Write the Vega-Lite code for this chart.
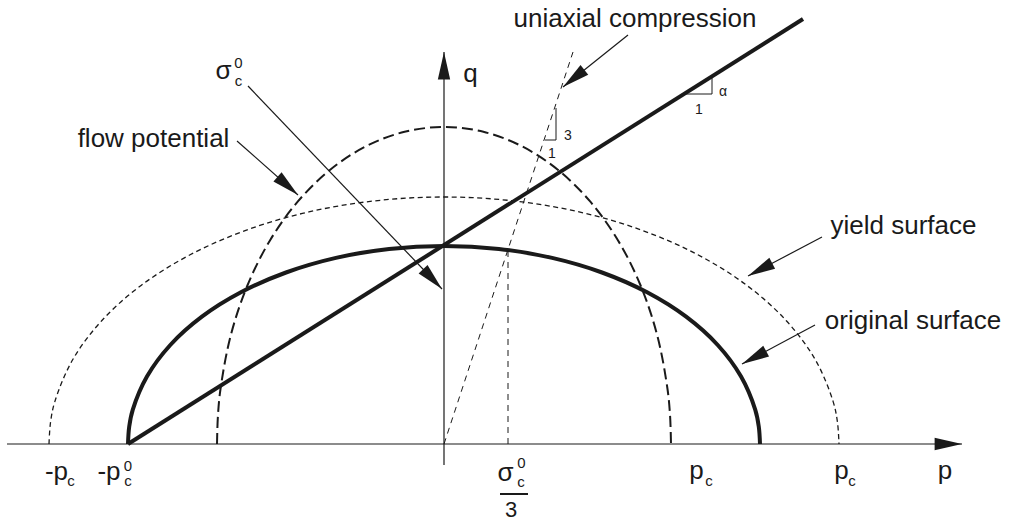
{
  "$schema": "https://vega.github.io/schema/vega-lite/v6.json",
  "width": 1012,
  "height": 528,
  "autosize": {"type": "fit", "contains": "padding"},
  "padding": 0,
  "background": "#ffffff",
  "view": {"stroke": null},
  "datasets": {
    "original": [
      {"p": -316, "q": 0}, {"p": -314.8, "q": 17.3}, {"p": -311.2, "q": 34.4}, {"p": -296.9, "q": 67.7},
      {"p": -273.7, "q": 99}, {"p": -242.1, "q": 127.3}, {"p": -203.1, "q": 151.7}, {"p": -158, "q": 171.5},
      {"p": -108.1, "q": 186.1}, {"p": -54.9, "q": 195}, {"p": 0, "q": 198}, {"p": 54.9, "q": 195},
      {"p": 108.1, "q": 186.1}, {"p": 158, "q": 171.5}, {"p": 203.1, "q": 151.7}, {"p": 242.1, "q": 127.3},
      {"p": 273.7, "q": 99}, {"p": 296.9, "q": 67.7}, {"p": 311.2, "q": 34.4}, {"p": 314.8, "q": 17.3},
      {"p": 316, "q": 0}
    ],
    "flow": [
      {"p": -227, "q": 0}, {"p": -226.1, "q": 27.6}, {"p": -223.5, "q": 55}, {"p": -213.3, "q": 108.4},
      {"p": -196.6, "q": 158.5}, {"p": -173.9, "q": 203.8}, {"p": -145.9, "q": 242.8}, {"p": -113.5, "q": 274.5},
      {"p": -77.6, "q": 297.9}, {"p": -39.4, "q": 312.2}, {"p": 0, "q": 317}, {"p": 39.4, "q": 312.2},
      {"p": 77.6, "q": 297.9}, {"p": 113.5, "q": 274.5}, {"p": 145.9, "q": 242.8}, {"p": 173.9, "q": 203.8},
      {"p": 196.6, "q": 158.5}, {"p": 213.3, "q": 108.4}, {"p": 223.5, "q": 55}, {"p": 226.1, "q": 27.6},
      {"p": 227, "q": 0}
    ],
    "yield": [
      {"p": -395, "q": 0}, {"p": -393.5, "q": 21.5}, {"p": -389, "q": 42.9}, {"p": -371.2, "q": 84.5},
      {"p": -342.1, "q": 123.5}, {"p": -302.6, "q": 158.8}, {"p": -253.9, "q": 189.2}, {"p": -197.5, "q": 213.9},
      {"p": -135.1, "q": 232.1}, {"p": -68.6, "q": 243.2}, {"p": 0, "q": 247}, {"p": 68.6, "q": 243.2},
      {"p": 135.1, "q": 232.1}, {"p": 197.5, "q": 213.9}, {"p": 253.9, "q": 189.2}, {"p": 302.6, "q": 158.8},
      {"p": 342.1, "q": 123.5}, {"p": 371.2, "q": 84.5}, {"p": 389, "q": 42.9}, {"p": 393.5, "q": 21.5},
      {"p": 395, "q": 0}
    ],
    "segs": [
      {"kind": "thick", "p": -316, "q": 0, "p2": 359, "q2": 425},
      {"kind": "dash", "p": 0, "q": 0, "p2": 129, "q2": 392},
      {"kind": "dash", "p": 64, "q": 0, "p2": 64, "q2": 193},
      {"kind": "thin", "p": 101, "q": 304, "p2": 112, "q2": 304},
      {"kind": "thin", "p": 112, "q": 304, "p2": 112, "q2": 336},
      {"kind": "thin", "p": 241, "q": 350, "p2": 268, "q2": 350},
      {"kind": "thin", "p": 268, "q": 350, "p2": 268, "q2": 367},
      {"kind": "bar", "p": 56, "q": -50, "p2": 84, "q2": -50}
    ],
    "arrows": [
      {"name": "p axis", "p": 518, "q": 0, "p2": -437, "q2": 0},
      {"name": "q axis", "p": 0, "q": 392, "p2": 0, "q2": -21},
      {"name": "uniaxial compression", "p": 119, "q": 357, "p2": 184, "q2": 409},
      {"name": "sigma", "p": -2, "q": 155, "p2": -196, "q2": 358},
      {"name": "flow potential", "p": -146, "q": 249, "p2": -207, "q2": 303},
      {"name": "yield surface", "p": 304, "q": 168, "p2": 378, "q2": 207},
      {"name": "original surface", "p": 298, "q": 80, "p2": 371, "q2": 119}
    ],
    "labels": [
      {"role": "main", "text": "uniaxial compression", "p": 191, "q": 417},
      {"role": "main", "text": "flow potential", "p": -290.5, "q": 297},
      {"role": "main", "text": "yield surface", "p": 459.5, "q": 210},
      {"role": "main", "text": "original surface", "p": 469, "q": 115},
      {"role": "main", "text": "q", "p": 26.5, "q": 362},
      {"role": "main", "text": "p", "p": 501, "q": -35},
      {"role": "main", "text": "-p", "p": -387.5, "q": -35.5},
      {"role": "main", "text": "-p", "p": -335, "q": -35.5},
      {"role": "main", "text": "σ", "p": -220.5, "q": 365},
      {"role": "main", "text": "σ", "p": 61.5, "q": -37},
      {"role": "main", "text": "p", "p": 252.5, "q": -35},
      {"role": "main", "text": "p", "p": 397.5, "q": -35},
      {"role": "script", "text": "c", "p": -373, "q": -42},
      {"role": "script", "text": "0", "p": -316, "q": -27},
      {"role": "script", "text": "c", "p": -316, "q": -42},
      {"role": "script", "text": "0", "p": -205.5, "q": 376},
      {"role": "script", "text": "c", "p": -205.5, "q": 358},
      {"role": "script", "text": "0", "p": 77.5, "q": -24},
      {"role": "script", "text": "c", "p": 77, "q": -43},
      {"role": "script", "text": "c", "p": 265, "q": -42},
      {"role": "script", "text": "c", "p": 408, "q": -42},
      {"role": "denom", "text": "3", "p": 67, "q": -73},
      {"role": "small", "text": "3", "p": 124, "q": 304},
      {"role": "small", "text": "1", "p": 108, "q": 286},
      {"role": "small", "text": "α", "p": 279, "q": 348},
      {"role": "small", "text": "1", "p": 255, "q": 330}
    ]
  },
  "encoding": {
    "x": {"field": "p", "type": "quantitative", "scale": {"domain": [-444, 568], "nice": false, "zero": false}, "axis": null},
    "y": {"field": "q", "type": "quantitative", "scale": {"domain": [-84, 444], "nice": false, "zero": false}, "axis": null}
  },
  "layer": [
    {
      "data": {"name": "yield"},
      "mark": {"type": "line", "interpolate": "catmull-rom", "color": "#1a1a1a", "strokeWidth": 1.3, "strokeDash": [5, 3.5]},
      "encoding": {}
    },
    {
      "data": {"name": "flow"},
      "mark": {"type": "line", "interpolate": "catmull-rom", "color": "#1a1a1a", "strokeWidth": 2, "strokeDash": [11, 5]},
      "encoding": {}
    },
    {
      "data": {"name": "original"},
      "mark": {"type": "line", "interpolate": "catmull-rom", "color": "#1a1a1a", "strokeWidth": 4},
      "encoding": {}
    },
    {
      "data": {"name": "segs"},
      "transform": [{"filter": "datum.kind === 'thick'"}],
      "mark": {"type": "rule", "color": "#1a1a1a", "strokeWidth": 4},
      "encoding": {"x2": {"field": "p2"}, "y2": {"field": "q2"}}
    },
    {
      "data": {"name": "segs"},
      "transform": [{"filter": "datum.kind === 'dash'"}],
      "mark": {"type": "rule", "color": "#1a1a1a", "strokeWidth": 1, "strokeDash": [6, 5]},
      "encoding": {"x2": {"field": "p2"}, "y2": {"field": "q2"}}
    },
    {
      "data": {"name": "segs"},
      "transform": [{"filter": "datum.kind === 'thin'"}],
      "mark": {"type": "rule", "color": "#1a1a1a", "strokeWidth": 1},
      "encoding": {"x2": {"field": "p2"}, "y2": {"field": "q2"}}
    },
    {
      "data": {"name": "segs"},
      "transform": [{"filter": "datum.kind === 'bar'"}],
      "mark": {"type": "rule", "color": "#1a1a1a", "strokeWidth": 2},
      "encoding": {"x2": {"field": "p2"}, "y2": {"field": "q2"}}
    },
    {
      "data": {"name": "arrows"},
      "mark": {"type": "rule", "color": "#1a1a1a", "strokeWidth": 1.2},
      "encoding": {"x2": {"field": "p2"}, "y2": {"field": "q2"}}
    },
    {
      "data": {"name": "arrows"},
      "transform": [{"calculate": "atan2(datum.p - datum.p2, datum.q - datum.q2) * 180 / PI", "as": "ang"}],
      "mark": {"type": "point", "shape": "M0,0L0.45,2L-0.45,2Z", "filled": true, "color": "#1a1a1a", "opacity": 1, "size": 750, "strokeWidth": 0},
      "encoding": {"angle": {"field": "ang", "type": "quantitative", "scale": null}}
    },
    {
      "data": {"name": "labels"},
      "transform": [{"filter": "datum.role === 'main'"}],
      "mark": {"type": "text", "font": "Liberation Sans", "fontSize": 26, "align": "center", "baseline": "alphabetic", "color": "#1a1a1a"},
      "encoding": {"text": {"field": "text"}}
    },
    {
      "data": {"name": "labels"},
      "transform": [{"filter": "datum.role === 'script'"}],
      "mark": {"type": "text", "font": "Liberation Sans", "fontSize": 15, "align": "center", "baseline": "alphabetic", "color": "#1a1a1a"},
      "encoding": {"text": {"field": "text"}}
    },
    {
      "data": {"name": "labels"},
      "transform": [{"filter": "datum.role === 'denom'"}],
      "mark": {"type": "text", "font": "Liberation Sans", "fontSize": 22, "align": "center", "baseline": "alphabetic", "color": "#1a1a1a"},
      "encoding": {"text": {"field": "text"}}
    },
    {
      "data": {"name": "labels"},
      "transform": [{"filter": "datum.role === 'small'"}],
      "mark": {"type": "text", "font": "Liberation Sans", "fontSize": 14, "align": "center", "baseline": "alphabetic", "color": "#1a1a1a"},
      "encoding": {"text": {"field": "text"}}
    }
  ]
}
